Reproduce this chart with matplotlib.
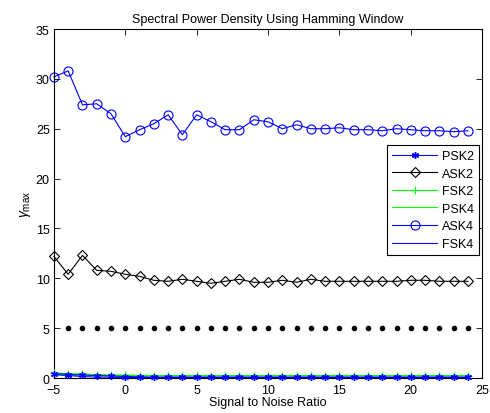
import matplotlib
matplotlib.use("Agg")
import matplotlib.pyplot as plt
import numpy as np

plt.rcParams['font.family'] = ['Liberation Sans', 'DejaVu Sans']
plt.rcParams['mathtext.fontset'] = 'custom'
plt.rcParams['mathtext.rm'] = 'Liberation Sans'
plt.rcParams['mathtext.it'] = 'Liberation Sans:italic'

snr = list(range(-5, 25))
psk2 = [0.45, 0.35, 0.3, 0.25, 0.2, 0.15, 0.12, 0.1, 0.1, 0.1, 0.1, 0.1, 0.1, 0.1, 0.1,
        0.1, 0.1, 0.1, 0.1, 0.1, 0.1, 0.1, 0.1, 0.1, 0.1, 0.1, 0.1, 0.1, 0.1, 0.1]
ask2 = [12.2, 10.4, 12.3, 10.8, 10.7, 10.4, 10.2, 9.8, 9.7, 9.9, 9.7, 9.5, 9.7, 9.9, 9.6,
        9.6, 9.8, 9.6, 9.9, 9.7, 9.7, 9.7, 9.7, 9.7, 9.7, 9.8, 9.8, 9.7, 9.7, 9.7]
fsk2 = [0.5, 0.45, 0.4, 0.35, 0.3, 0.3, 0.25, 0.25, 0.25, 0.25, 0.25, 0.25, 0.25, 0.25, 0.25,
        0.25, 0.25, 0.25, 0.25, 0.25, 0.25, 0.25, 0.25, 0.25, 0.25, 0.25, 0.25, 0.25, 0.25, 0.25]
psk4 = [0.3, 0.3, 0.28, 0.27, 0.26, 0.25, 0.25, 0.25, 0.25, 0.25, 0.25, 0.25, 0.25, 0.25, 0.25,
        0.25, 0.25, 0.25, 0.25, 0.25, 0.25, 0.25, 0.25, 0.25, 0.25, 0.25, 0.25, 0.25, 0.25, 0.25]
ask4 = [30.2, 30.8, 27.4, 27.5, 26.5, 24.2, 24.9, 25.5, 26.4, 24.4, 26.4, 25.7, 24.9, 24.9, 25.9,
        25.7, 25.0, 25.4, 25.0, 25.0, 25.1, 24.9, 24.9, 24.8, 25.0, 24.9, 24.8, 24.8, 24.7, 24.8]
fsk4 = [0.35, 0.25, 0.15, 0.1, 0.08, 0.06, 0.05, 0.05, 0.05, 0.05, 0.05, 0.05, 0.05, 0.05, 0.05,
        0.05, 0.05, 0.05, 0.05, 0.05, 0.05, 0.05, 0.05, 0.05, 0.05, 0.05, 0.05, 0.05, 0.05, 0.05]
thr_x = list(range(-4, 25))
thr_y = [5] * len(thr_x)

fig = plt.figure(figsize=(4.9, 4.14), dpi=100)
ax = fig.add_axes([0.110, 0.0845, 0.874, 0.843])

blue = '#0000ff'
green = '#00ff00'
lw = 0.8
ast = (6, 2, 0)
ax.plot(snr, psk2, color=blue, marker=ast, ms=5, lw=lw, label='PSK2', clip_on=False, zorder=5)
ax.plot(snr, ask2, color='black', marker='D', ms=5.5, mfc='none', mew=0.8, lw=lw, label='ASK2', clip_on=False)
ax.plot(snr, fsk2, color=green, marker='+', ms=6, mew=0.8, lw=lw, label='FSK2', clip_on=False, zorder=4)
ax.plot(snr, psk4, color=green, lw=lw, label='PSK4')
ax.plot(snr, ask4, color=blue, marker='o', ms=6.5, mfc='none', mew=0.8, lw=lw, label='ASK4', clip_on=False)
ax.plot(snr, fsk4, color=blue, lw=lw, label='FSK4')
ax.plot(thr_x, thr_y, color='black', marker='.', ms=6, ls='none')

ax.set_xlim(-5, 25)
ax.set_ylim(0, 35)
ax.set_xticks(range(-5, 26, 5))
ax.set_yticks(range(0, 36, 5))
ax.tick_params(direction='in', top=True, right=True, labelsize=9, length=4, width=0.6)
ax.tick_params(axis='x', pad=4)
ax.tick_params(axis='y', pad=3)
for s in ax.spines.values():
    s.set_linewidth(0.8)

ax.set_title('Spectral Power Density Using Hamming Window', fontsize=9, pad=5)
ax.set_xlabel('Signal to Noise Ratio', fontsize=9, labelpad=0)
ax.set_ylabel(r'$\gamma_{\mathrm{max}}$', fontsize=10, labelpad=2)

leg = ax.legend(loc='upper right', bbox_to_anchor=(0.993, 0.668), fontsize=9,
                fancybox=False, edgecolor='black', framealpha=1, borderaxespad=0,
                handlelength=3.6, handletextpad=0.4, labelspacing=0.45, borderpad=0.4)
leg.get_frame().set_linewidth(0.8)

fig.savefig('out.png', dpi=100)
